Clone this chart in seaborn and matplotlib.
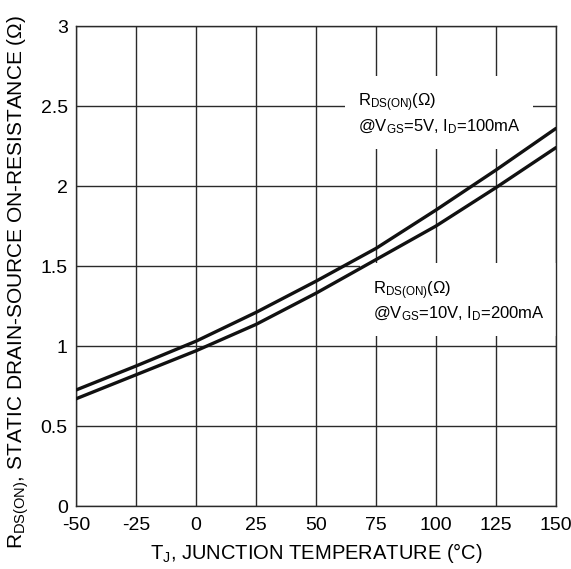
import pandas as pd
import seaborn as sns
import matplotlib.pyplot as plt

# Junction temperature (°C) and R_DS(ON)
temp_c = [-50, -25, 0, 25, 50, 75, 100, 125, 150]
r_5v_100ma = [0.725, 0.875, 1.03, 1.21, 1.405, 1.61, 1.85, 2.10, 2.36]
r_10v_200ma = [0.67, 0.82, 0.97, 1.135, 1.33, 1.54, 1.75, 1.99, 2.24]

x_ticks = [-50, -25, 0, 25, 50, 75, 100, 125, 150]
y_ticks = [0, 0.5, 1, 1.5, 2, 2.5, 3]
y_tick_labels = ['0', '0.5', '1', '1.5', '2', '2.5', '3']

sns.set_style('white')
plt.rcParams['font.family'] = ['Liberation Sans', 'DejaVu Sans']
plt.rcParams['mathtext.fontset'] = 'custom'
plt.rcParams['mathtext.rm'] = 'Liberation Sans'
plt.rcParams['mathtext.it'] = 'Liberation Sans'
plt.rcParams['axes.unicode_minus'] = False
plt.rcParams['text.color'] = 'black'
plt.rcParams['axes.labelcolor'] = 'black'

df = pd.DataFrame({
    'Tj': temp_c * 2,
    'R': r_5v_100ma + r_10v_200ma,
    'cond': ['5V'] * len(temp_c) + ['10V'] * len(temp_c),
})

fig = plt.figure(figsize=(5.71, 5.69), dpi=100)
ax = fig.add_axes([0.1331, 0.1107, 0.8406, 0.8436])

# grid first so the labels' white boxes sit on top of it
for xv in x_ticks:
    ax.axvline(xv, color='#2a2a2a', lw=1.0, zorder=1)
for yv in y_ticks:
    ax.axhline(yv, color='#2a2a2a', lw=1.0, zorder=1)

sns.lineplot(data=df, x='Tj', y='R', hue='cond',
             palette={'5V': '#111111', '10V': '#111111'},
             linewidth=2.4, legend=False, ax=ax, zorder=3)

ax.set_xlim(-50, 150)
ax.set_ylim(0, 3)
ax.set_xticks(x_ticks)
ax.set_yticks(y_ticks)
ax.set_yticklabels(y_tick_labels)
ax.tick_params(length=0, labelsize=14, colors='black')
ax.tick_params(axis='x', pad=8)
ax.tick_params(axis='y', pad=6)

for s in ax.spines.values():
    s.set_color('#2a2a2a')
    s.set_linewidth(1.0)

ax.set_xlabel(r'T$_\mathregular{J}$, JUNCTION TEMPERATURE (°C)', fontsize=14.5, labelpad=5)
ax.set_ylabel(r'R$_\mathregular{DS(ON)}$, STATIC DRAIN-SOURCE ON-RESISTANCE ($\Omega$)',
              fontsize=15)
ax.yaxis.set_label_coords(-0.093, 0.467)

box = dict(boxstyle='square,pad=0.75', facecolor='white', edgecolor='none')
ax.text(67.5, 2.45,
        'R$_\\mathregular{DS(ON)}$($\\Omega$)\n@V$_\\mathregular{GS}$=5V, I$_\\mathregular{D}$=100mA',
        fontsize=12, ha='left', va='center', linespacing=1.25, bbox=box, zorder=2)
ax.text(73.75, 1.28,
        'R$_\\mathregular{DS(ON)}$($\\Omega$)\n@V$_\\mathregular{GS}$=10V, I$_\\mathregular{D}$=200mA',
        fontsize=12, ha='left', va='center', linespacing=1.25, bbox=box, zorder=2)

fig.savefig('out.png', dpi=100)
